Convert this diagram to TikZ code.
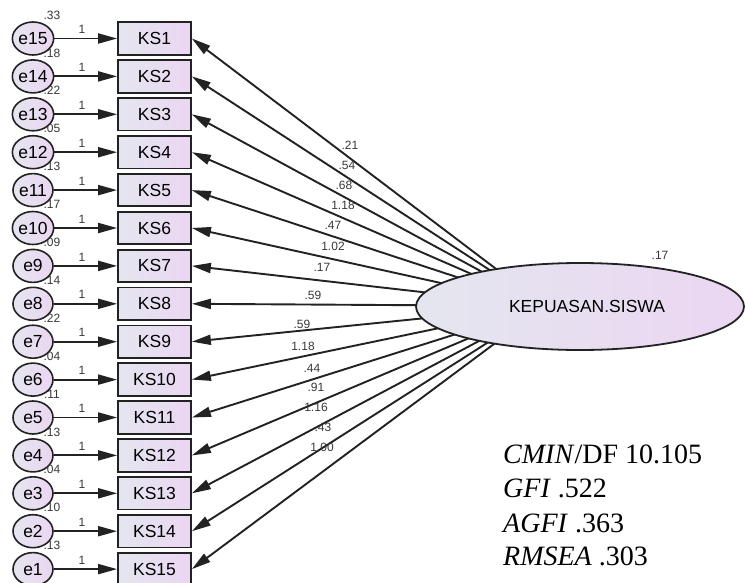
\documentclass[tikz,border=0pt]{standalone}
\usepackage{fontspec}
\setmainfont{Liberation Sans}
\newfontfamily\timesfont{Liberation Serif}
\usetikzlibrary{arrows.meta,shapes.geometric,backgrounds}
\definecolor{boxL}{HTML}{E4E6EF}
\definecolor{boxR}{HTML}{EBD6F2}
\definecolor{ink}{HTML}{222222}
\begin{document}
\begin{tikzpicture}[x=1pt,y=-1pt,
  obs/.style={draw=ink,line width=1.8pt,minimum width=73pt,minimum height=32.5pt,inner sep=0pt,left color=boxL,right color=boxR,font=\fontsize{17.5}{17.5}\selectfont},
  err/.style={ellipse,draw=ink,line width=1.6pt,minimum width=40pt,minimum height=33pt,inner sep=0pt,left color=boxL,right color=boxR,font=\fontsize{17.5}{17.5}\selectfont},
  lat/.style={ellipse,draw=ink,line width=1.8pt,minimum width=328pt,minimum height=87pt,inner sep=0pt,left color=boxL,right color=boxR,font=\fontsize{17.5}{17.5}\selectfont},
  arr/.style={draw=ink,line width=1.9pt,-{Triangle[length=19pt,width=10pt]}},
  small/.style={font=\fontsize{12}{12}\selectfont,inner sep=0pt,text=ink!90},
  stat/.style={font=\timesfont\fontsize{28}{28}\selectfont,inner sep=0pt,anchor=base west}
]
\useasboundingbox (0,0) rectangle (745,582);

% latent variable
\node[lat] (ks) at (580,306.5) {\hspace*{14pt}KEPUASAN.SISWA};
\node[small] (kv) at (660,255) {.17};
\coordinate (aim) at (545,306);

% indicators and error terms
\foreach \i/\e/\ev in {1/15/.33,2/14/.18,3/13/.22,4/12/.05,5/11/.13,6/10/.17,7/9/.09,8/8/.14,9/7/.22,10/6/.04,11/5/.11,12/4/.13,13/3/.04,14/2/.10,15/1/.13}{
  \pgfmathsetmacro{\cy}{38.5+37.9*(\i-1)}
  \node[obs] (KS\i) at (154.5,\cy) {KS\i};
  \node[err] (e\e) at (33,\cy) {e\e};
  \node[small] (ev\e) at (52,\cy-23.5) {\ev};
  \node[small] (w\e) at (82,\cy-9) {1};
  \draw[arr] (e\e) -- (KS\i.west);
}

% loadings (start hidden under the latent ellipse)
\begin{scope}[on background layer]
\fill[white] (0,0) rectangle (745,582);
\foreach \i in {1,...,15}{
  \draw[arr] (aim) -- (KS\i.east);
}
\end{scope}
\foreach \i/\v/\lx/\ly in {1/.21/350/145,2/.54/347/165,3/.68/344/185,4/1.18/343/205,5/.47/333/225,6/1.02/333/246,7/.17/322/267,8/.59/313/295,9/.59/302/324,10/1.18/303/346,11/.44/312/368,12/.91/316/387,13/1.16/316/407,14/.43/323/427,15/1.00/322/447}{
  \node[small] (l\i) at (\lx,\ly) {\v};
}

% fit statistics
\node[stat] (s1) at (503,463) {\textit{CMIN}/DF 10.105};
\node[stat] (s2) at (503,497.5) {\textit{GFI} .522};
\node[stat] (s3) at (503,532) {\textit{AGFI} .363};
\node[stat] (s4) at (503,565.5) {\textit{RMSEA} .303};
\end{tikzpicture}
\end{document}
